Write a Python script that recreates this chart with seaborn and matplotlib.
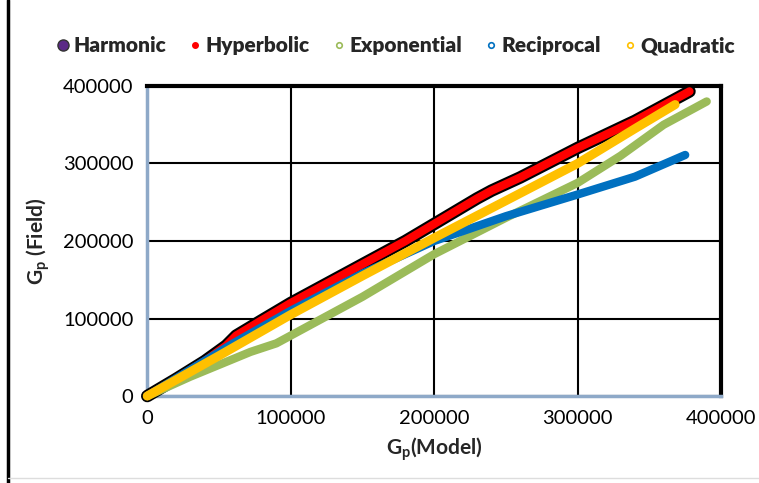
import matplotlib
matplotlib.use("Agg")
import matplotlib.pyplot as plt
import seaborn as sns
import pandas as pd
from matplotlib.lines import Line2D

sns.set_theme(style="white")
plt.rcParams['font.family'] = ['Lato', 'DejaVu Sans']
plt.rcParams['mathtext.fontset'] = 'custom'
plt.rcParams['mathtext.rm'] = 'Lato'
plt.rcParams['mathtext.bf'] = 'Lato:bold'

# Data
hyp_x = [0, 20000, 40000, 55000, 62000, 80000, 100000, 140000, 180000, 200000, 230000, 240000, 260000, 300000, 340000, 378000]
hyp_y = [0, 22000, 45000, 65000, 78000, 98000, 120000, 160000, 200000, 222000, 255000, 265000, 282000, 320000, 355000, 393000]
harm_x = hyp_x
harm_y = hyp_y
exp_x = [0, 30000, 72000, 90000, 110000, 150000, 200000, 250000, 300000, 330000, 360000, 390000]
exp_y = [0, 25000, 57000, 68000, 88000, 128000, 183000, 230000, 275000, 310000, 350000, 380000]
rec_x = [0, 30000, 60000, 100000, 150000, 200000, 250000, 300000, 340000, 375000]
rec_y = [0, 34000, 68000, 110000, 158000, 200000, 232000, 260000, 283000, 311000]
quad_x = [0, 50000, 100000, 150000, 200000, 250000, 300000, 340000, 368000]
quad_y = [0, 52000, 105000, 155000, 204000, 252000, 300000, 345000, 376000]

ticks = [0, 100000, 200000, 300000, 400000]
labels = ["Harmonic", "Hyperbolic", "Exponential", "Reciprocal", "Quadratic"]
colors = ["#5b2a86", "#ff0000", "#9bbb59", "#0070c0", "#ffc000"]

fig = plt.figure(figsize=(7.59, 4.83), dpi=100)
ax = fig.add_axes([0.194, 0.180, 0.756, 0.642])

def plot(x, y, color, lw, z):
    df = pd.DataFrame({"x": x, "y": y})
    sns.lineplot(data=df, x="x", y="y", sort=False, color=color, linewidth=lw,
                 ax=ax, zorder=z, solid_capstyle="round", solid_joinstyle="round",
                 clip_on=False)

plot(harm_x, harm_y, "black", 9, 3)
plot(hyp_x, hyp_y, colors[1], 6, 4)
plot(exp_x, exp_y, colors[2], 6, 5)
plot(rec_x, rec_y, colors[3], 6, 6)
plot(quad_x, quad_y, colors[4], 6.5, 7)

ax.set_xlim(0, 400000)
ax.set_ylim(0, 400000)
ax.set_xticks(ticks)
ax.set_yticks(ticks)
ax.set_xticklabels([str(t) for t in ticks])
ax.set_yticklabels([str(t) for t in ticks])
ax.tick_params(axis='both', labelsize=14.5, colors='black', length=0, pad=10)
ax.grid(True, color='black', linewidth=1.5)
ax.set_axisbelow(True)
for s in ['top', 'right']:
    ax.spines[s].set_color('black')
    ax.spines[s].set_linewidth(3)
for s in ['left', 'bottom']:
    ax.spines[s].set_color('#8ea9c8')
    ax.spines[s].set_linewidth(2.5)

ax.set_xlabel(r"G$_\mathregular{p}$(Model)", fontsize=15, fontweight='bold', labelpad=6)
ax.set_ylabel(r"G$_\mathregular{p}$ (Field)", fontsize=15, fontweight='bold', labelpad=8)

handles = [
    Line2D([], [], linestyle='none', marker='o', markersize=8, markerfacecolor=colors[0], markeredgecolor='#333333'),
    Line2D([], [], linestyle='none', marker='o', markersize=4, markerfacecolor=colors[1], markeredgecolor=colors[1]),
    Line2D([], [], linestyle='none', marker='o', markersize=4, markerfacecolor='white', markeredgecolor=colors[2], markeredgewidth=1.2),
    Line2D([], [], linestyle='none', marker='o', markersize=4, markerfacecolor='white', markeredgecolor=colors[3], markeredgewidth=1.2),
    Line2D([], [], linestyle='none', marker='o', markersize=4, markerfacecolor='white', markeredgecolor=colors[4], markeredgewidth=1.2),
]
fig.legend(handles, labels, loc='center', bbox_to_anchor=(0.52, 0.905), ncol=5, frameon=False,
           prop={'weight': 'heavy', 'size': 15}, handletextpad=0.1, columnspacing=1.0, handlelength=0.8)

fig.add_artist(Line2D([0.011, 0.011], [0, 1], color='black', linewidth=2.5, transform=fig.transFigure))
fig.add_artist(Line2D([0.011, 1], [0.01, 0.01], color='#dddddd', linewidth=1, transform=fig.transFigure))

fig.savefig("out.png", dpi=100)
